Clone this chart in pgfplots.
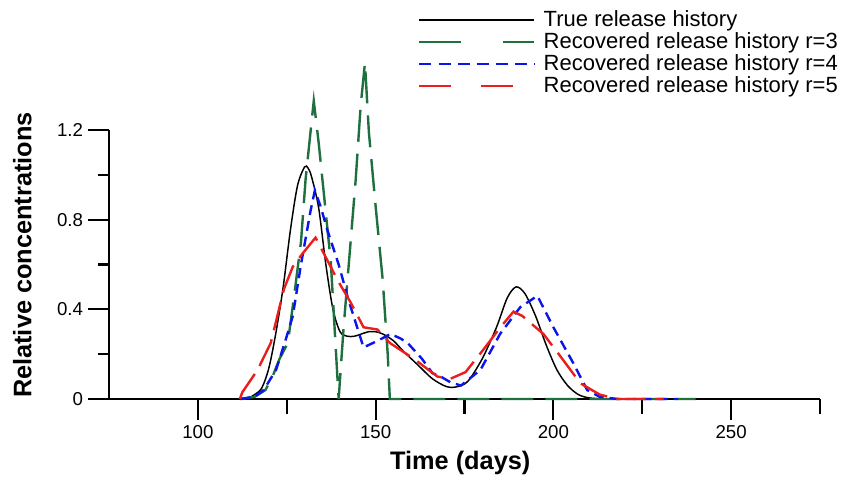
\documentclass[border=0pt]{standalone}
\usepackage{pgfplots}
\pgfplotsset{compat=1.18}
\usepackage{fontspec}
\setmainfont{Liberation Sans}
\definecolor{rgreen}{RGB}{30,112,62}
\definecolor{rblue}{RGB}{10,20,235}
\definecolor{rred}{RGB}{235,30,30}
\begin{document}
\begin{tikzpicture}
% page frame, 853 x 477 px at 0.75pt per px
\path (0pt,0pt) rectangle (639.75pt,357.75pt);
\begin{axis}[
  at={(81.75pt,58.5pt)}, anchor=south west,
  scale only axis,
  width=533.25pt, height=201.75pt,
  xmin=75, xmax=275, ymin=0, ymax=1.2,
  clip=false,
  axis x line*=bottom, axis y line*=left,
  axis line style={line width=1.8pt, -},
  xtick align=outside, ytick align=outside,
  major tick length=16pt,
  every tick/.append style={draw=none},
  xtick={100,150,200,250},
  xticklabels={100,150,200,250},
  ytick={0,0.4,0.8,1.2},
  yticklabels={0,0.4,0.8,1.2},
  tick label style={font=\fontsize{14}{16}\selectfont},
  xlabel={\bfseries Time (days)},
  ylabel={\bfseries Relative concentrations},
  label style={font=\fontsize{19}{22}\selectfont},
  xlabel style={at={(axis description cs:0.494,-0.238)}, anchor=center},
  ylabel style={at={(axis description cs:-0.122,0.535)}, anchor=center},
  legend cell align=left,
  legend style={draw=none, fill=none, inner sep=0pt,
    at={(0.4346,1.4535)}, anchor=north west,
    font=\fontsize{16.5}{18}\selectfont, row sep=-1pt},
]
% tick marks, outside
\pgfplotsinvokeforeach{100,150,200,250}{
  \draw[line width=1.6pt] (axis cs:#1,0) -- ++(0pt,-16pt);}
\pgfplotsinvokeforeach{125,175,225,275}{
  \draw[line width=1.6pt] (axis cs:#1,0) -- ++(0pt,-11pt);}
\pgfplotsinvokeforeach{0,0.4,0.8,1.2}{
  \draw[line width=1.6pt] (axis cs:75,#1) -- ++(-16pt,0pt);}
\pgfplotsinvokeforeach{0.2,0.6,1.0}{
  \draw[line width=1.6pt] (axis cs:75,#1) -- ++(-8pt,0pt);}
% true release history
\addplot[black, line width=1.1pt, smooth, forget plot] coordinates {
  (110,0) (114,0.005) (116,0.02) (118,0.05) (120,0.14) (122,0.30)
  (124,0.50) (126,0.75) (128,0.95) (130,1.035) (131,1.03) (132,0.99)
  (134,0.85) (136,0.60) (138,0.40) (140,0.30) (142,0.28) (144,0.28)
  (146,0.29) (148,0.30) (150,0.30) (152,0.29) (155,0.26) (158,0.21)
  (162,0.15) (166,0.09) (170,0.055) (173,0.055) (176,0.08) (180,0.18)
  (184,0.32) (187,0.45) (189.5,0.50) (192,0.47) (195,0.37) (198,0.24)
  (201,0.13) (204,0.06) (207,0.02) (210,0.005) (214,0)
};
% r=3
\addplot[rgreen, line width=1.8pt, dash pattern=on 24pt off 9pt, forget plot] coordinates {
  (112,0) (116,0.01) (119,0.04) (121,0.10) (123,0.18) (125.3,0.25)
  (127,0.45) (129,0.70) (130.3,0.98) (132.6,1.33) (134,1.14) (137.4,0.61)
  (139.6,0.0) (141,0.32) (144.4,0.98) (145.8,1.31) (147,1.50) (148.1,1.19)
  (150,0.86) (152,0.53) (153.4,0.20) (154,0.0) (170,0) (200,0) (240,0)
};
% r=4
\addplot[rblue, line width=1.8pt, dash pattern=on 7.5pt off 4.5pt, forget plot] coordinates {
  (112,0) (116,0.01) (118.5,0.04) (122,0.13) (125,0.28) (126.7,0.37)
  (129,0.60) (131.7,0.84) (132.9,0.93) (134.5,0.86) (136.5,0.75) (139.6,0.60)
  (142.4,0.44) (146.6,0.23) (150.6,0.26) (154.2,0.29) (157,0.27) (159,0.25)
  (163,0.18) (166,0.115) (168.3,0.10) (171,0.075) (174,0.06) (179.5,0.13)
  (185,0.29) (190.7,0.41) (195.5,0.46) (200,0.32) (205.6,0.16) (209.5,0.04)
  (213,0.01) (218,0) (235,0)
};
% r=5
\addplot[rred, line width=1.8pt, dash pattern=on 22pt off 7pt, forget plot] coordinates {
  (111.8,0) (112.5,0.03) (116.8,0.13) (120.5,0.25) (124.2,0.49) (126.7,0.59)
  (129.5,0.65) (133.1,0.72) (135.4,0.65) (139.3,0.53) (143,0.43) (146.6,0.32)
  (150.5,0.31) (154,0.25) (160.7,0.18) (167.4,0.10) (171,0.09) (175.3,0.12)
  (180.3,0.22) (185.1,0.32) (188.8,0.39) (191.3,0.37) (197.2,0.29) (202,0.19)
  (207.6,0.07) (213,0.02) (218,0) (231,0)
};
% legend
\addlegendimage{legend image code/.code={\draw[black, line width=1.1pt] (0pt,0pt) -- (86pt,0pt); \path (91pt,0pt);}}
\addlegendentry{True release history}
\addlegendimage{legend image code/.code={\draw[rgreen, line width=1.8pt, dash pattern=on 31.5pt off 31pt] (0pt,0pt) -- (86pt,0pt); \path (91pt,0pt);}}
\addlegendentry{Recovered release history r=3}
\addlegendimage{legend image code/.code={\draw[rblue, line width=1.8pt, dash pattern=on 9pt off 5.3pt] (0pt,0pt) -- (86pt,0pt); \path (91pt,0pt);}}
\addlegendentry{Recovered release history r=4}
\addlegendimage{legend image code/.code={\draw[rred, line width=1.8pt, dash pattern=on 24pt off 22.5pt] (0pt,0pt) -- (86pt,0pt); \path (91pt,0pt);}}
\addlegendentry{Recovered release history r=5}
\end{axis}
\end{tikzpicture}
\end{document}
